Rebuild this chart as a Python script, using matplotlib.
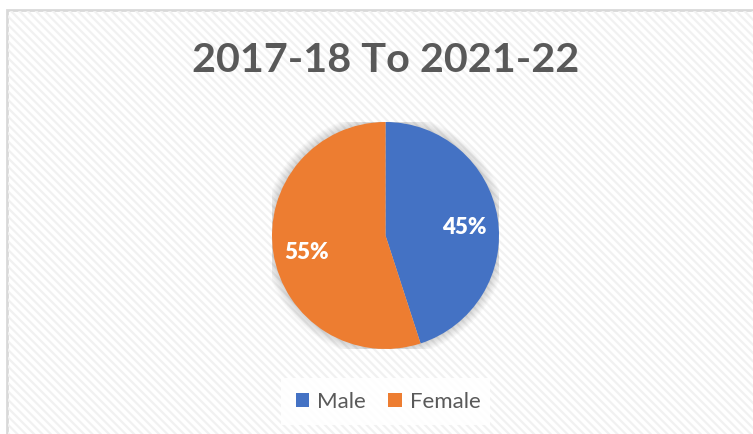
import matplotlib.pyplot as plt
from matplotlib.patches import Rectangle, Patch, Circle

# datos del grafico
categorias = ["Male", "Female"]
valores = [45, 55]
colores = ["#4472C4", "#ED7D31"]
titulo = "2017-18 To 2021-22"

W, H = 753, 434
plt.rcParams['font.family'] = ['Lato', 'DejaVu Sans']
plt.rcParams['hatch.linewidth'] = 1.6

fig = plt.figure(figsize=(W / 100, H / 100), dpi=100)
fig.patch.set_facecolor("white")

# fondo con rayas diagonales y borde
fondo = fig.add_axes([0, 0, 1, 1])
fondo.set_xlim(0, W)
fondo.set_ylim(H, 0)
fondo.axis("off")
fondo.add_patch(Rectangle((7.5, 9.5), W + 20, H + 20, facecolor="white",
                          edgecolor="#d9d9d9", lw=2))
fondo.add_patch(Rectangle((8.5, 10.5), W + 20, H + 20, facecolor="none",
                          edgecolor="#f1f1f1", lw=0, hatch="\\\\\\\\"))

# caja blanca de la leyenda
fondo.add_patch(Rectangle((281, 378), 209, 47, facecolor="white",
                          edgecolor="none", alpha=0.9))

fondo.text(386, 60, titulo, ha="center", va="center", fontsize=29.8,
           fontweight="bold", color="#595959")

# pie
cx, cy, r = 385.5, 235.5, 113.5
ax = fig.add_axes([(cx - r) / W, 1 - (cy + r) / H, 2 * r / W, 2 * r / H])
for k in range(8):
    ax.add_patch(Circle((0, 0), 1.0 + 0.01 * (k + 1), facecolor="#000000",
                        alpha=0.018, edgecolor="none", zorder=0))
wedges, textos, pct = ax.pie(valores, colors=colores, startangle=90,
                             counterclock=False, autopct="%1.0f%%",
                             pctdistance=0.70,
                             wedgeprops=dict(linewidth=0))
for t in pct:
    t.set_color("white")
    t.set_fontsize(16)
    t.set_fontweight("heavy")
    x, y = t.get_position()
    t.set_position((x, y - 0.04))
ax.set_xlim(-1, 1)
ax.set_ylim(-1, 1)
ax.axis("off")

# leyenda
handles = [Patch(facecolor=c, edgecolor="none") for c in colores]
fig.legend(handles, categorias, loc="center", bbox_to_anchor=(388 / W, 1 - 402 / H),
           ncol=2, frameon=False, fontsize=16, labelcolor="#595959",
           handlelength=0.62, handleheight=0.62, handletextpad=0.35,
           columnspacing=1.0)

fig.savefig("out.png", dpi=100)
